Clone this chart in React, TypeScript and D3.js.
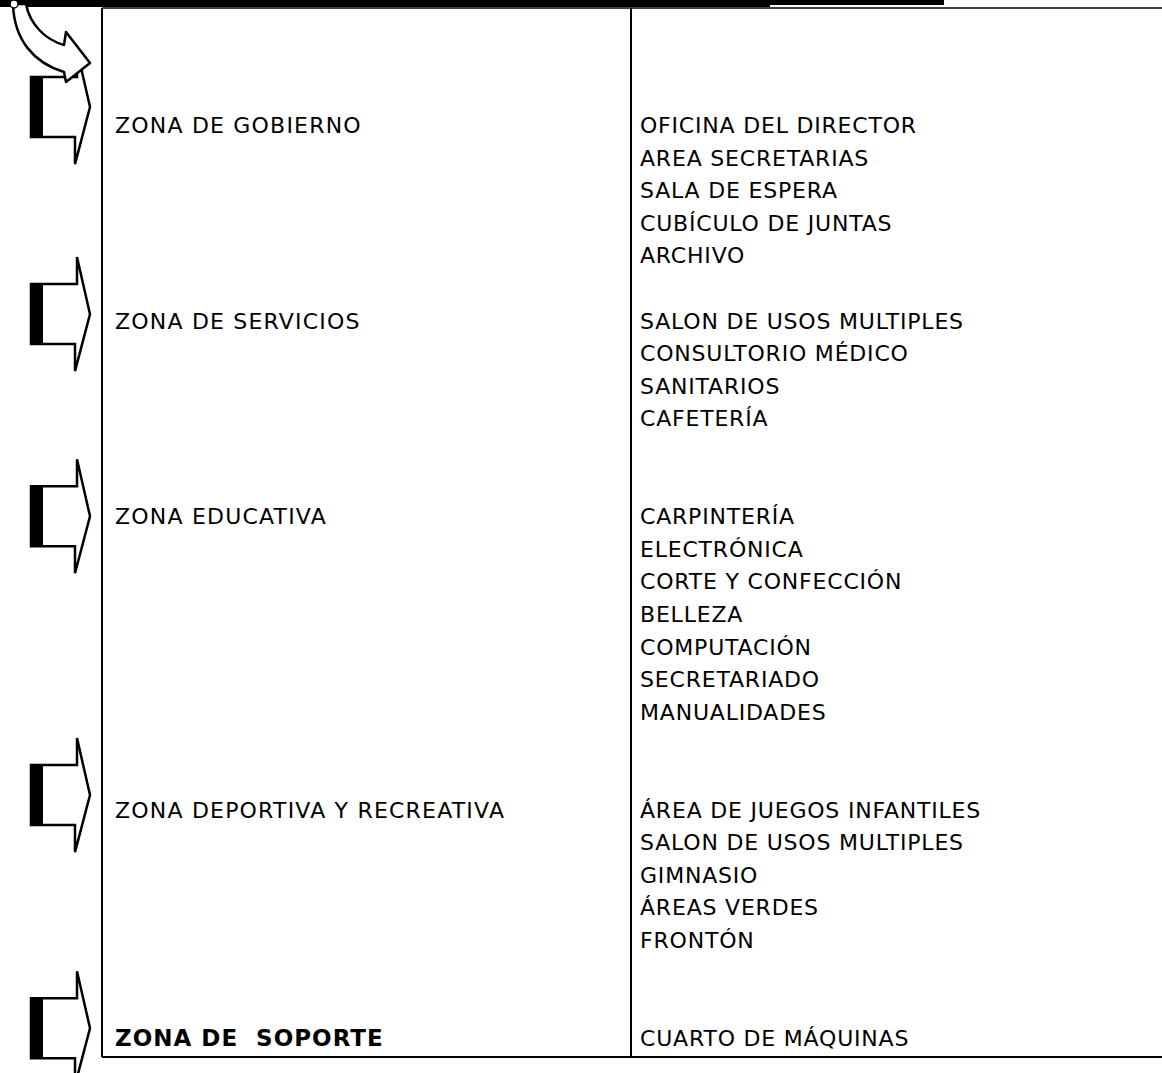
import React from "react";
import * as d3 from "d3";

// zonas y sus espacios
const zones = [
  "ZONA DE GOBIERNO",
  "ZONA DE SERVICIOS",
  "ZONA EDUCATIVA",
  "ZONA DEPORTIVA Y RECREATIVA",
  "ZONA DE  SOPORTE",
];
const zoneRows = [0, 6, 12, 21, 28];
const spaces = [
  ["OFICINA DEL DIRECTOR", "AREA SECRETARIAS", "SALA DE ESPERA", "CUBÍCULO DE JUNTAS", "ARCHIVO"],
  ["SALON DE USOS MULTIPLES", "CONSULTORIO MÉDICO", "SANITARIOS", "CAFETERÍA"],
  ["CARPINTERÍA", "ELECTRÓNICA", "CORTE Y CONFECCIÓN", "BELLEZA", "COMPUTACIÓN", "SECRETARIADO", "MANUALIDADES"],
  ["ÁREA DE JUEGOS INFANTILES", "SALON DE USOS MULTIPLES", "GIMNASIO", "ÁREAS VERDES", "FRONTÓN"],
  ["CUARTO DE MÁQUINAS"],
];
// desfase de cada flecha respecto a su zona (en renglones)
const arrowShift = [-0.55, -0.2, 0, -0.45, -0.3];

const W = 1162;
const H = 1073;

export default function App() {
  const y = d3.scaleLinear().domain([0, 28]).range([125, 1038]);
  const x = { arrowL: 31, arrowBar: 12, bodyR: 77, tip: 90, left: 102, mid: 631, right: W };
  const tableTop = 8;
  const tableBottom = 1057;

  const arrowPath = (c: number) => {
    const p = d3.path();
    p.moveTo(x.arrowL, c - 30);
    p.lineTo(x.bodyR, c - 30);
    p.lineTo(x.bodyR, c - 57);
    p.lineTo(x.tip, c);
    p.lineTo(x.bodyR - 2, c + 57);
    p.lineTo(x.bodyR - 2, c + 30);
    p.lineTo(x.arrowL, c + 30);
    p.closePath();
    return p.toString();
  };

  const font = "'DejaVu Sans', sans-serif";

  return (
    <svg
      width={W}
      height={H}
      style={{ position: "absolute", left: 0, top: 0, background: "#fff" }}
    >
      {/* barra superior */}
      <rect x={0} y={0} width={770} height={7} fill="#000" />
      <rect x={770} y={0} width={174} height={5} fill="#000" />

      {/* marco de la tabla */}
      <g stroke="#000" strokeWidth={2} fill="none">
        <line x1={x.left} y1={tableTop} x2={x.right} y2={tableTop} strokeWidth={1.5} />
        <line x1={x.left} y1={tableTop} x2={x.left} y2={tableBottom} />
        <line x1={x.mid} y1={tableTop} x2={x.mid} y2={tableBottom} />
        <line x1={x.left} y1={tableBottom} x2={x.right} y2={tableBottom} />
      </g>

      {/* flechas */}
      {zoneRows.map((r, i) => {
        const c = y(r + arrowShift[i]);
        return (
          <g key={i}>
            <path d={arrowPath(c)} fill="#fff" stroke="#000" strokeWidth={2.5} strokeLinejoin="miter" />
            <rect x={x.arrowL} y={c - 30} width={x.arrowBar} height={60} fill="#000" />
          </g>
        );
      })}

      {/* flecha curva de entrada */}
      <path
        d="M13,4 C14,40 34,63 64,72 L66,82 L90,63 L66,32 L64,45 C46,40 30,25 26,4 Z"
        fill="#fff"
        stroke="#000"
        strokeWidth={2.5}
        strokeLinejoin="round"
      />
      <circle cx={14} cy={4} r={4} fill="#fff" stroke="#000" strokeWidth={1.5} />

      {/* zonas */}
      {zones.map((z, i) => (
        <text
          key={z}
          x={115}
          y={y(zoneRows[i])}
          dy="0.36em"
          fontFamily={font}
          fontSize={i === 4 ? 23 : 22}
          fontWeight={i === 4 ? "bold" : "normal"}
          letterSpacing={i === 4 ? 1 : 1.2}
          style={{ whiteSpace: "pre" }}
          fill="#000"
        >
          {z}
        </text>
      ))}

      {/* espacios */}
      {spaces.map((list, i) =>
        list.map((s, j) => (
          <text
            key={`${i}-${j}`}
            x={640}
            y={y(zoneRows[i] + j)}
            dy="0.36em"
            fontFamily={font}
            fontSize={22}
            letterSpacing={0.8}
            fill="#000"
          >
            {s}
          </text>
        ))
      )}
    </svg>
  );
}
